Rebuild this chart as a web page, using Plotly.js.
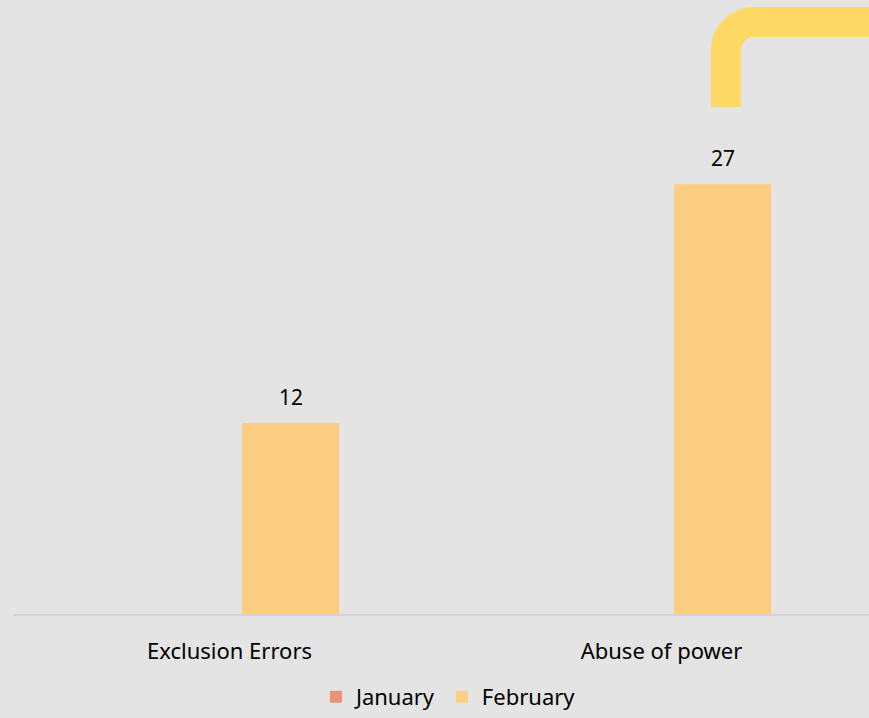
<!DOCTYPE html>
<html><head><meta charset="utf-8">
<script src="https://cdn.plot.ly/plotly-3.0.1.min.js"></script>
<style>html,body{margin:0;padding:0;background:#e4e4e4;}</style>
</head><body>
<div id="chart" style="width:869px;height:718px;"></div>
<script>
const categories = ["Exclusion Errors", "Abuse of power"];
const january = [null, null];
const february = [12, 27];
const seriesNames = ["January", "February"];
const colors = ["#E8937A", "#FDCD82"];

const W = 869, H = 718;
const L = 13, T = 41, B = 104, R = 0;
const pw = W - L - R, ph = H - T - B;
const yMax = 36;
const catPx = 432;

function px(x){ return (x - L) / pw; }
function py(y){ return (H - B - y) / ph; }

const traces = [
  {type:'bar', name:seriesNames[0], x:categories, y:january, marker:{color:colors[0]}, hoverinfo:'skip'},
  {type:'bar', name:seriesNames[1], x:categories, y:february, marker:{color:colors[1]}, hoverinfo:'skip'}
];

const annotations = february.map((v,i)=>({
  x: categories[i], y: v, xref:'x', yref:'y', text: String(v), showarrow:false,
  xshift: 61, yshift: 10, yanchor:'bottom', font:{size:21, color:'#000'}
}));

const k = 0.5523*28;
const path = `M ${px(726)},${py(107)} L ${px(726)},${py(50)} C ${px(726)},${py(50-k)} ${px(754-k)},${py(22)} ${px(754)},${py(22)} L ${px(880)},${py(22)}`;

const x0 = -(229.5 - L) / catPx;

const layout = {
  width: W, height: H,
  margin:{l:L, r:R, t:T, b:B, pad:0},
  paper_bgcolor:'#e4e4e4', plot_bgcolor:'#e4e4e4',
  font:{family:'"Noto Sans", "Open Sans", sans-serif', size:22, color:'#000'},
  barmode:'group', bargap:0.434, bargroupgap:0.205,
  showlegend:true,
  legend:{orientation:'h', xref:'container', yref:'container', x:0.516, xanchor:'center', y:-0.006, yanchor:'bottom', font:{size:22, color:'#000'}, bgcolor:'rgba(0,0,0,0)', itemwidth:30, traceorder:'normal'},
  xaxis:{type:'category', range:[x0, x0 + pw/catPx], showline:true, linecolor:'#d4d4d4', linewidth:2, showgrid:false, zeroline:false, ticks:'', ticklabelstandoff:17, tickfont:{size:22, color:'#000'}, fixedrange:true},
  yaxis:{range:[0, yMax], visible:false, showgrid:false, zeroline:false, fixedrange:true},
  annotations: annotations,
  shapes:[{type:'path', xref:'paper', yref:'paper', path:path, line:{color:'#FFD966', width:30}, layer:'above'}]
};

Plotly.newPlot('chart', traces, layout, {displayModeBar:false, staticPlot:true});
</script>
</body></html>
